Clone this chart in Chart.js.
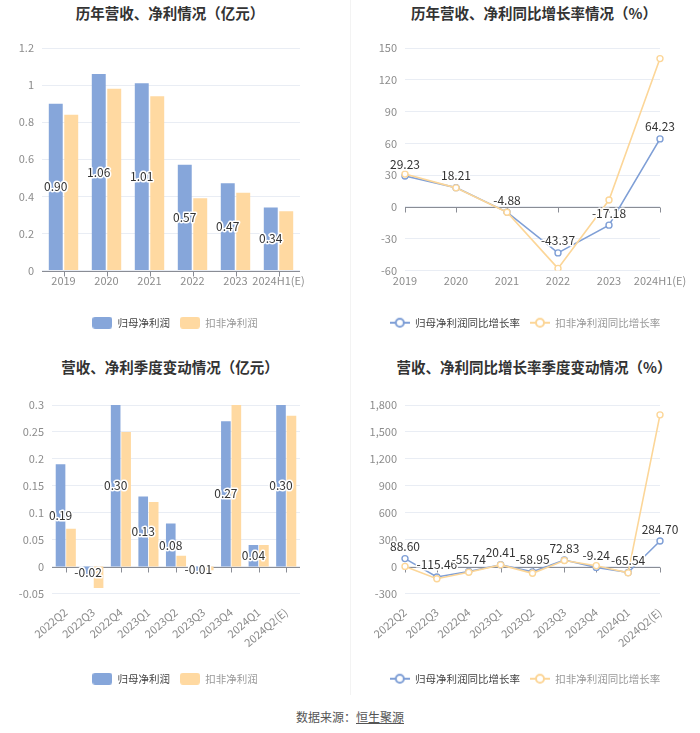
<!DOCTYPE html>
<html><head><meta charset="utf-8">
<script src="https://cdn.jsdelivr.net/npm/chart.js@4.4.1/dist/chart.umd.min.js"></script>
<style>
body{margin:0;background:#fff;width:700px;height:733px;position:relative;overflow:hidden;font-family:"Microsoft YaHei","Noto Sans CJK SC",sans-serif;}
.title{position:absolute;text-align:center;font-size:14.5px;font-weight:bold;color:#333;line-height:20px;}
.box{position:absolute;}
.divider{position:absolute;left:350px;top:0;width:1px;height:695px;background:#f3f3f3;}
.src{position:absolute;top:709px;left:0;width:700px;text-align:center;font-size:12px;color:#555;line-height:16px;}
.src u{text-decoration:underline;}
</style></head>
<body>
<div class="divider"></div>
<div class="title" style="left:0;width:340px;top:3px;">历年营收、净利情况（亿元）</div>
<div class="title" style="left:360px;width:348px;top:3px;">历年营收、净利同比增长率情况（%）</div>
<div class="title" style="left:0;width:340px;top:357px;">营收、净利季度变动情况（亿元）</div>
<div class="title" style="left:360px;width:348px;top:357px;">营收、净利同比增长率季度变动情况（%）</div>
<div class="box" style="left:0;top:28px;width:350px;height:310px;"><canvas id="c1"></canvas></div>
<div class="box" style="left:350px;top:28px;width:350px;height:310px;"><canvas id="c2"></canvas></div>
<div class="box" style="left:0;top:385px;width:350px;height:309px;"><canvas id="c3"></canvas></div>
<div class="box" style="left:350px;top:385px;width:350px;height:309px;"><canvas id="c4"></canvas></div>
<div class="src">数据来源：<u>恒生聚源</u></div>
<script>
// ---- data ----
const yearLabels = ['2019','2020','2021','2022','2023','2024H1(E)'];
const yearNetProfit = [0.90, 1.06, 1.01, 0.57, 0.47, 0.34];
const yearDeductProfit = [0.84, 0.98, 0.94, 0.39, 0.42, 0.32];
const yearNetGrowth = [29.23, 18.21, -4.88, -43.37, -17.18, 64.23];
const yearDeductGrowth = [31, 18, -5, -58, 6.5, 140];

const quarterLabels = ['2022Q2','2022Q3','2022Q4','2023Q1','2023Q2','2023Q3','2023Q4','2024Q1','2024Q2(E)'];
const quarterNetProfit = [0.19, -0.02, 0.30, 0.13, 0.08, -0.01, 0.27, 0.04, 0.30];
const quarterDeductProfit = [0.07, -0.04, 0.25, 0.12, 0.02, -0.007, 0.30, 0.04, 0.28];
const quarterNetGrowth = [88.60, -115.46, -55.74, 20.41, -58.95, 72.83, -9.24, -65.54, 284.70];
const quarterDeductGrowth = [2, -135, -63, 19, -75, 68, 10, -70, 1690];

const seriesNames = ['归母净利润', '扣非净利润'];
const growthNames = ['归母净利润同比增长率', '扣非净利润同比增长率'];

// ---- styles ----
const FONT = '"Microsoft YaHei","Noto Sans CJK SC",sans-serif';
const BLUE = '#86a6da', ORANGE = '#ffd9a1';
const LBLUE = '#7f9fd6', LORANGE = '#fcd698';
const GRID = '#e9edf4', AXIS = '#8a8d95', TICKC = '#8c8c8c';
Chart.defaults.font.family = FONT;
Chart.defaults.animation = false;

function barIcon(color){const c=document.createElement('canvas');c.width=20;c.height=12;const x=c.getContext('2d');x.fillStyle=color;x.beginPath();x.roundRect(0,0,20,12,3);x.fill();return c;}
function lineIcon(color){const c=document.createElement('canvas');c.width=20;c.height=12;const x=c.getContext('2d');x.strokeStyle=color;x.lineWidth=2;x.beginPath();x.moveTo(0,6);x.lineTo(20,6);x.stroke();x.beginPath();x.arc(10,6,4,0,Math.PI*2);x.fillStyle='#fff';x.fill();x.stroke();return c;}

const labelPlugin = {
  id:'vlabels',
  afterDatasetsDraw(chart, args, opts){
    if(!opts || !opts.mode) return;
    const ctx=chart.ctx, meta=chart.getDatasetMeta(0), ds=chart.data.datasets[0];
    ctx.save(); ctx.font='12px '+FONT; ctx.textAlign='center'; ctx.textBaseline='middle';
    ctx.lineWidth=3; ctx.strokeStyle='#fff'; ctx.fillStyle='#333'; ctx.lineJoin='round';
    meta.data.forEach((el,i)=>{
      const txt=ds.data[i].toFixed(2);
      const y = opts.mode==='bar' ? (el.y+el.base)/2 : el.y-12;
      ctx.strokeText(txt,el.x,y); ctx.fillText(txt,el.x,y);
    });
    ctx.restore();
  }
};
const zeroAxis = {
  id:'zeroAxis',
  beforeDatasetsDraw(chart){
    const ctx=chart.ctx, xs=chart.scales.x, ys=chart.scales.y, a=chart.chartArea;
    const y0=Math.round(ys.getPixelForValue(0))+0.5;
    ctx.save(); ctx.strokeStyle=AXIS; ctx.lineWidth=1;
    ctx.beginPath(); ctx.moveTo(a.left,y0); ctx.lineTo(a.right,y0);
    for(let i=0;i<xs.ticks.length;i++){const x=Math.round(xs.getPixelForTick(i))+0.5; ctx.moveTo(x,y0); ctx.lineTo(x,y0+5);}
    ctx.stroke(); ctx.restore();
  }
};

function makeChart(id, type, labels, d1, d2, names, yOpt, rot, xH){
  const isBar = type==='bar';
  const icons = isBar ? [barIcon(BLUE), barIcon(ORANGE)] : [lineIcon(LBLUE), lineIcon(LORANGE)];
  const mk = (data, i) => isBar ? {
      label:names[i], data, backgroundColor: i?ORANGE:BLUE, borderWidth:0,
      barPercentage: rot?0.92:0.9, categoryPercentage: rot?0.76:0.72
    } : {
      label:names[i], data, borderColor: i?LORANGE:LBLUE, backgroundColor:'#fff',
      borderWidth:1.6, pointRadius:3, pointBorderWidth:1.4, pointBackgroundColor:'#fff',
      pointBorderColor: i?LORANGE:LBLUE, tension:0, order: i?0:1
    };
  return new Chart(document.getElementById(id), {
    type,
    data:{labels, datasets:[mk(d1,0), mk(d2,1)]},
    options:{
      responsive:true, maintainAspectRatio:false,
      layout:{padding:{top:20, right:0, left:0, bottom:0}},
      scales:{
        x:{
          grid:{display:false, drawTicks:false}, border:{display:false},
          ticks:{color:TICKC, font:{size:11}, padding:rot?12:4, autoSkip:false,
                 maxRotation: rot||0, minRotation: rot||0},
          afterFit(s){ s.height = xH; }
        },
        y:{
          min:yOpt.min, max:yOpt.max,
          grid:{color: GRID, drawTicks:false, lineWidth:1},
          border:{display:false},
          ticks:{stepSize:yOpt.step, color:TICKC, font:{size:11}, padding:8,
                 callback: yOpt.fmt},
          afterFit(s){ s.width = yOpt.w; }
        },
        yR:{
          position:'right', display:true,
          grid:{display:false, drawTicks:false}, border:{display:false}, ticks:{display:false},
          afterFit(s){ s.width = yOpt.padR; }
        }
      },
      plugins:{
        legend:{position:'bottom',
          labels:{usePointStyle:true, pointStyleWidth:20, boxHeight:12, padding:10, font:{size:10.5},
            generateLabels(chart){
              const items = Chart.defaults.plugins.legend.labels.generateLabels(chart);
              items.sort((a,b)=>a.datasetIndex-b.datasetIndex);
              items.forEach(it=>{ const i=it.datasetIndex; it.pointStyle = icons[i]; it.fontColor = i? '#999':'#444'; });
              return items;
            }}},
        tooltip:{enabled:false},
        vlabels:{mode: isBar?'bar':'line'}
      }
    },
    plugins:[zeroAxis, labelPlugin]
  });
}

const f2 = v => String(Number(v.toFixed(2)));
const fc = v => Math.round(v).toLocaleString('en-US');

makeChart('c1','bar',yearLabels,yearNetProfit,yearDeductProfit,seriesNames,
  {min:0,max:1.2,step:0.2,fmt:f2,w:42,padR:50},0,37);
makeChart('c2','line',yearLabels,yearNetGrowth,yearDeductGrowth,growthNames,
  {min:-60,max:150,step:30,fmt:fc,w:55,padR:40},0,37);
makeChart('c3','bar',quarterLabels,quarterNetProfit,quarterDeductProfit,seriesNames,
  {min:-0.05,max:0.3,step:0.05,fmt:f2,w:52,padR:50},40,70);
makeChart('c4','line',quarterLabels,quarterNetGrowth,quarterDeductGrowth,growthNames,
  {min:-300,max:1800,step:300,fmt:fc,w:55,padR:40},40,70);
</script>
</body></html>
